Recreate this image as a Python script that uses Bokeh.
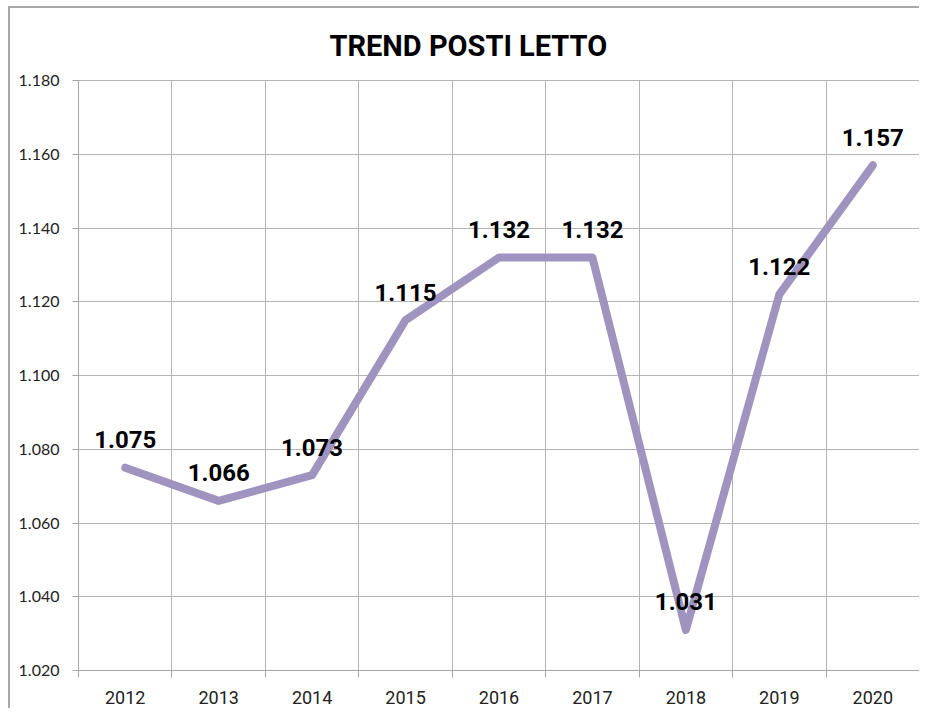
from bokeh.plotting import figure
from bokeh.models import ColumnDataSource, Range1d, FixedTicker, CustomJSTickFormatter
from bokeh.core.properties import value
from bokeh.embed import file_html
from bokeh.resources import INLINE

# ---- data ----
years = ["2012", "2013", "2014", "2015", "2016", "2017", "2018", "2019", "2020"]
posti_letto = [1075, 1066, 1073, 1115, 1132, 1132, 1031, 1122, 1157]
y_ticks = [1020, 1040, 1060, 1080, 1100, 1120, 1140, 1160, 1180]
title_text = "TREND POSTI LETTO"

x_pos = [i + 0.5 for i in range(len(years))]
boundaries = list(range(len(years) + 1))
labels = [f"{v/1000:.3f}" for v in posti_letto]
src = ColumnDataSource(dict(x=x_pos, y=posti_letto, label=labels, year=years))

GRID = "#b4b4b4"
AXIS = "#a6a6a6"
FONT = "Roboto"

p = figure(width=911, height=702, output_backend="svg", toolbar_location=None,
           title=title_text,
           x_range=Range1d(0, len(years)), y_range=Range1d(y_ticks[0], y_ticks[-1]),
           min_border_left=68, min_border_right=2, min_border_top=72, min_border_bottom=40)
p.margin = (6, 0, 0, 8)
p.styles = {"border-left": "2px solid #a8a8a8", "border-top": "2px solid #a8a8a8"}

p.title.align = "left"
p.title.text_font = FONT
p.title.text_font_style = "bold"
p.title.text_font_size = "29px"
p.title.text_color = "black"
p.title.offset = 251
p.title.standoff = 36

p.outline_line_color = GRID
p.background_fill_color = "white"
p.border_fill_color = "white"

# grids
p.xgrid.ticker = FixedTicker(ticks=boundaries)
p.xgrid.grid_line_color = GRID
p.ygrid.grid_line_color = GRID

# x axis
p.xaxis.ticker = FixedTicker(ticks=x_pos, minor_ticks=boundaries)
p.xaxis.formatter = CustomJSTickFormatter(args=dict(cats=years),
                                          code="return cats[Math.floor(tick)];")
p.xaxis.major_tick_line_color = None
p.xaxis.major_tick_out = 0
p.xaxis.major_tick_in = 0
p.xaxis.minor_tick_out = 7
p.xaxis.minor_tick_in = 0
p.xaxis.minor_tick_line_color = AXIS
p.xaxis.axis_line_color = AXIS
p.xaxis.major_label_standoff = 13
p.xaxis.major_label_text_font = FONT
p.xaxis.major_label_text_font_size = "18px"
p.xaxis.major_label_text_color = "#222222"

# y axis
p.yaxis.ticker = FixedTicker(ticks=y_ticks)
p.yaxis.formatter = CustomJSTickFormatter(code="return (tick/1000).toFixed(3);")
p.yaxis.major_tick_out = 6
p.yaxis.major_tick_in = 0
p.yaxis.minor_tick_line_color = None
p.yaxis.major_tick_line_color = AXIS
p.yaxis.axis_line_color = AXIS
p.yaxis.major_label_standoff = 13
p.yaxis.major_label_text_font = "Lato"
p.yaxis.major_label_text_font_size = "16px"
p.yaxis.major_label_text_color = "#222222"

# data
p.line("x", "y", source=src, line_width=8, line_color="#9f93bf",
       line_join="round", line_cap="round")
p.text("x", "y", text="label", source=src, text_font=value(FONT),
       text_font_style="bold", text_font_size="24px", text_align="center",
       text_baseline="middle", y_offset=-28, text_color="black")

open("out.html", "w").write(file_html(p, INLINE))
